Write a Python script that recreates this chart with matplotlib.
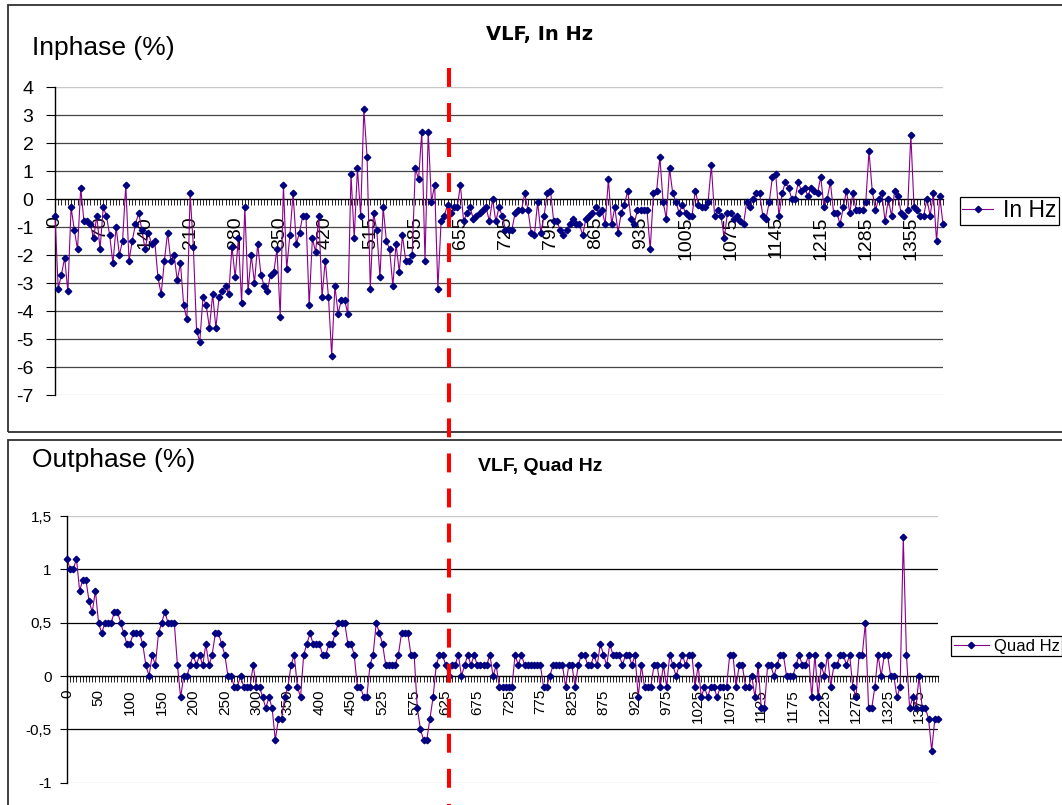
import matplotlib
matplotlib.use('Agg')
import matplotlib.pyplot as plt
from matplotlib.lines import Line2D
from matplotlib.patches import Rectangle

plt.rcParams['font.family'] = ['Liberation Sans', 'DejaVu Sans']

# ---------------- data ----------------
# category labels (distance): 0..470 step 5, then 500..1405 step 5
distance = list(range(0, 475, 5)) + list(range(500, 1410, 5))

inphase = [
    -0.6, -3.2, -2.7, -2.1, -3.3, -0.3, -1.1, -1.8, 0.4, -0.8,
    -0.8, -0.9, -1.4, -0.6, -1.8, -0.3, -0.6, -1.3, -2.3, -1.0,
    -2.0, -1.5, 0.5, -2.2, -1.5, -0.9, -0.5, -1.1, -1.8, -1.2,
    -1.6, -1.5, -2.8, -3.4, -2.2, -1.2, -2.2, -2.0, -2.9, -2.3,
    -3.8, -4.3, 0.2, -1.7, -4.7, -5.1, -3.5, -3.8, -4.6, -3.4,
    -4.6, -3.5, -3.3, -3.1, -3.4, -1.7, -2.8, -1.4, -3.7, -0.3,
    -3.3, -2.0, -3.0, -1.6, -2.7, -3.1, -3.3, -2.7, -2.6, -1.8,
    -4.2, 0.5, -2.5, -1.3, 0.2, -1.6, -1.2, -0.6, -0.6, -3.8,
    -1.4, -1.9, -0.6, -3.5, -2.2, -3.5, -5.6, -3.1, -4.1, -3.6,
    -3.6, -4.1, 0.9, -1.4, 1.1,
    -0.6, 3.2, 1.5, -3.2, -0.5, -1.1, -2.8, -0.3, -1.5, -1.8,
    -3.1, -1.6, -2.6, -1.3, -2.2, -2.2, -2.0, 1.1, 0.7, 2.4,
    -2.2, 2.4, -0.1, 0.5, -3.2, -0.8, -0.6, -0.2, -0.5, -0.3,
    -0.3, 0.5, -0.8, -0.5, -0.3, -0.7, -0.6, -0.5, -0.4, -0.3,
    -0.8, 0.0, -0.8, -0.3, -0.6, -1.1, -1.1, -1.1, -0.5, -0.4,
    -0.4, 0.2, -0.4, -1.2, -1.3, -0.1, -1.2, -0.6, 0.2, 0.3,
    -0.8, -0.8, -1.1, -1.3, -1.1, -0.9, -0.7, -0.9, -0.9, -1.3, -0.7,
    -0.6, -0.5, -0.3, -0.5, -0.4, -0.9, 0.7, -0.9, -0.3, -1.2,
    -0.5, -0.2, 0.3, -0.7, -0.9, -0.4, -0.4, -0.4, -0.4, -1.8,
    0.2, 0.3, 1.5, -0.1, -0.7, 1.1, 0.2, -0.1, -0.5, -0.2,
    -0.5,
    -0.6, -0.6, 0.3, -0.2, -0.3, -0.3, -0.1, 1.2, -0.6, -0.4,
    -0.6, -1.4, -0.5, -0.5, -0.7, -0.6, -0.8, -0.9, -0.1, -0.3,
    0.0, 0.2, 0.2, -0.6, -0.7, -0.1, 0.8, 0.9, -0.6, 0.2,
    0.6, 0.4, 0.0, 0.0, 0.6, 0.3, 0.4, 0.1, 0.4, 0.3,
    0.2, 0.8, -0.3, 0.0, 0.6, -0.5, -0.5, -0.9, -0.3, 0.3,
    -0.5, 0.2, -0.4, -0.4, -0.4, -0.1, 1.7, 0.3, -0.4, 0.0,
    0.2, -0.8, 0.0, -0.6, 0.3, 0.1, -0.5, -0.6, -0.4, 2.3,
    -0.3, -0.4, -0.6, -0.6, 0.0, -0.6, 0.2, -1.5, 0.1, -0.9,
]

quad = [
    1.1, 1.0, 1.0, 1.1, 0.8, 0.9, 0.9, 0.7, 0.6, 0.8,
    0.5, 0.4, 0.5, 0.5, 0.5, 0.6, 0.6, 0.5, 0.4, 0.3,
    0.3, 0.4, 0.4, 0.4, 0.3, 0.1, 0.0, 0.2, 0.1, 0.4,
    0.5, 0.6, 0.5, 0.5, 0.5, 0.1, -0.2, 0.0, 0.0, 0.1,
    0.2, 0.1, 0.2, 0.1, 0.3, 0.1, 0.2, 0.4, 0.4, 0.3,
    0.2, 0.0, 0.0, -0.1, -0.1, 0.0, -0.1, -0.1, -0.1, 0.1,
    -0.1, -0.1, -0.2, -0.3, -0.2, -0.3, -0.6, -0.4, -0.4, -0.2,
    -0.1, 0.1, 0.2, -0.1, -0.2, 0.2, 0.3, 0.4, 0.3, 0.3,
    0.3, 0.2, 0.2, 0.3, 0.3, 0.4, 0.5, 0.5, 0.5, 0.3,
    0.3, 0.2, -0.1,
    -0.1, -0.2, -0.2, 0.1, 0.2, 0.5, 0.4, 0.3, 0.1, 0.1,
    0.1, 0.1, 0.2, 0.4, 0.4, 0.4, 0.2, 0.2, -0.3, -0.5,
    -0.6, -0.6, -0.4, -0.2, 0.1, 0.2, 0.2, 0.1, 0.0, 0.1,
    0.1, 0.2, 0.0, 0.1, 0.2, 0.1, 0.2, 0.1, 0.1, 0.1,
    0.1, 0.2, 0.0, 0.1, -0.1, -0.1, -0.1, -0.1, -0.1, 0.2,
    0.1, 0.2, 0.1, 0.1, 0.1, 0.1, 0.1, 0.1, -0.1, -0.1,
    0.0, 0.1, 0.1, 0.1, 0.1, -0.1, 0.1, 0.1, -0.1, 0.1,
    0.2, 0.2, 0.1, 0.1, 0.2, 0.1, 0.3, 0.2, 0.1, 0.3,
    0.2, 0.2, 0.2, 0.1, 0.2, 0.2, 0.1, 0.2, -0.2, 0.1,
    -0.1, -0.1, -0.1, 0.1, 0.1, -0.1, 0.1, -0.1, 0.2, 0.1,
    0.0, 0.1, 0.2, 0.1, 0.2, 0.2, -0.1, 0.1,
    -0.2, -0.1, -0.2, -0.1, -0.1, -0.2, -0.1, -0.1, -0.1, 0.2,
    0.2, -0.1, 0.1, 0.1, -0.1, -0.1, 0.0, -0.2, 0.1, -0.3,
    -0.3, 0.1, 0.1, 0.0, 0.1, 0.2, 0.2, 0.0, 0.0, 0.0,
    0.1, 0.2, 0.1, 0.1, 0.2, -0.2, 0.2, -0.2, 0.1, 0.0,
    0.2, -0.1, 0.1, 0.1, 0.2, 0.2, 0.1, 0.2, -0.1, -0.2,
    0.2, 0.2, 0.5, -0.3, -0.3, -0.1, 0.2, 0.0, 0.2, 0.2,
    0.0, 0.0, -0.2, -0.1, 1.3, 0.2, -0.3, -0.2, -0.3, 0.0,
    -0.3, -0.3, -0.4, -0.7, -0.4, -0.4,
]

inphase_yticks = [4, 3, 2, 1, 0, -1, -2, -3, -4, -5, -6, -7]
quad_yticks = [1.5, 1.0, 0.5, 0.0, -0.5, -1.0]
quad_yticklabels = ['1,5', '1', '0,5', '0', '-0,5', '-1']

# ---------------- figure ----------------
W, H = 1062, 805
fig = plt.figure(figsize=(W / 100, H / 100), dpi=100)


def fx(px):
    return px / W


def fy(py):
    return 1 - py / H


# panel frames
for (x0, y0, y1) in [(8, 5, 432), (8, 440, 830)]:
    fig.add_artist(Rectangle((fx(x0), fy(y1)), fx(1080) - fx(x0), fy(y0) - fy(y1),
                             transform=fig.transFigure, fill=False,
                             ec='#303030', lw=1.3, zorder=0))

N = len(distance)
idx = list(range(N))

line_col = '#8B008B'
mark_col = '#000080'


def style_axes(ax, ymin, ymax, grid_vals, grid_col, label_every, xfs):
    ax.set_xlim(0, N - 1)
    ax.set_ylim(ymin, ymax)
    for s in ['top', 'right']:
        ax.spines[s].set_visible(False)
    ax.spines['bottom'].set_position(('data', 0))
    ax.spines['bottom'].set_color('black')
    ax.spines['bottom'].set_linewidth(1.0)
    ax.spines['left'].set_color('black')
    ax.spines['left'].set_linewidth(1.0)
    for g in grid_vals:
        ax.axhline(g, color=grid_col, lw=0.9, zorder=0.5)
    ax.axhline(ymax, color='#c8c8c8', lw=1.0, zorder=0.5)
    ax.axhline(ymin, color='#d8d8d8', lw=1.0, zorder=0.5)
    major = list(range(0, N, label_every))
    ax.set_xticks(major)
    ax.set_xticklabels([str(distance[i]) for i in major], rotation=90, fontsize=xfs)
    ax.set_xticks(idx, minor=True)
    ax.tick_params(axis='x', which='both', length=4.5, width=0.7, color='#202020',
                   direction='out')
    ax.set_facecolor('none')


# ---------- top panel ----------
ax1 = fig.add_axes([fx(55), fy(395), fx(943) - fx(55), fy(87) - fy(395)])
ax1.plot(idx, inphase, color=line_col, lw=0.8, marker='D', ms=3.3,
         mfc=mark_col, mec=mark_col, zorder=3, clip_on=False, label='In Hz')
style_axes(ax1, -7, 4, [3, 2, 1, -1, -2, -3, -4, -5, -6], '#454545', 14, 14)
ax1.set_yticks(inphase_yticks)
ax1.set_yticklabels([str(v) for v in inphase_yticks], fontsize=14)
ax1.tick_params(axis='y', length=6.5, width=0.8, direction='out', pad=9)
ax1.tick_params(axis='x', which='major', pad=8)
ax1.legend(loc='upper left', bbox_to_anchor=(fx(960), fy(197)),
           bbox_transform=fig.transFigure, borderaxespad=0, fontsize=16.5,
           frameon=True, fancybox=False, edgecolor='black', framealpha=1,
           handlelength=1.35, handletextpad=0.42, borderpad=0.1, numpoints=1)
ax1.get_legend().get_frame().set_linewidth(0.9)

fig.text(fx(32), fy(55), 'Inphase (%)', fontsize=19, ha='left', va='baseline')
fig.text(fx(540), fy(40), 'VLF, In Hz', fontsize=14, fontweight='bold',
         family='DejaVu Sans', ha='center', va='baseline')

# ---------- bottom panel ----------
ax2 = fig.add_axes([fx(67), fy(782.7), fx(938) - fx(67), fy(516) - fy(782.7)])
ax2.plot(idx, quad, color=line_col, lw=0.8, marker='D', ms=3.3,
         mfc=mark_col, mec=mark_col, zorder=3, clip_on=False, label='Quad Hz')
style_axes(ax2, -1, 1.5, [1.0, 0.5, -0.5], '#000000', 10, 11)
ax2.set_yticks(quad_yticks)
ax2.set_yticklabels(quad_yticklabels, fontsize=11)
ax2.tick_params(axis='y', length=5, width=0.8, direction='out', pad=6)
ax2.tick_params(axis='x', which='major', pad=5)
ax2.legend(loc='upper left', bbox_to_anchor=(fx(951), fy(636)),
           bbox_transform=fig.transFigure, borderaxespad=0, fontsize=12,
           frameon=True, fancybox=False, edgecolor='black', framealpha=1,
           handlelength=2.1, handletextpad=0.3, borderpad=0.15, numpoints=1)
ax2.get_legend().get_frame().set_linewidth(0.9)

fig.text(fx(32), fy(467), 'Outphase (%)', fontsize=19, ha='left', va='baseline')
fig.text(fx(540), fy(471), 'VLF, Quad Hz', fontsize=14, fontweight='bold',
         ha='center', va='baseline')

# ---------- red dashed marker line ----------
red = Line2D([fx(449), fx(449)], [fy(68), fy(812)], transform=fig.transFigure,
             color='#ff0000', lw=2.9, dashes=(4.7, 4.0), solid_capstyle='butt',
             dash_capstyle='butt', zorder=10)
fig.add_artist(red)

fig.savefig('out.png', dpi=100)
